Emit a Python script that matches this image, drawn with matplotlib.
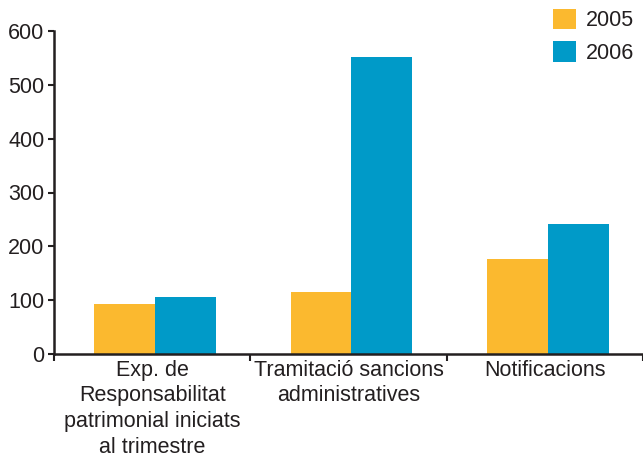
import matplotlib
matplotlib.use("Agg")
import matplotlib.pyplot as plt
import numpy as np

categories = ["Exp. de\nResponsabilitat\npatrimonial iniciats\nal trimestre",
              "Tramitació sancions\nadministratives",
              "Notificacions"]
years = ["2005", "2006"]
values_2005 = [93, 115, 176]
values_2006 = [106, 551, 241]
yticks = [0, 100, 200, 300, 400, 500, 600]

C05 = "#FBB92F"
C06 = "#009AC8"
TXT = "#231F20"
FS = 15.5

plt.rcParams['font.family'] = ['Liberation Sans', 'DejaVu Sans']

fig = plt.figure(figsize=(6.43, 4.57), dpi=100)
ax = fig.add_axes([54/643, 1-354/457, 1-54/643, (354-31)/457])

x = np.arange(len(categories)) + 0.515
w = 0.31
b1 = ax.bar(x - w/2, values_2005, w, color=C05, label=years[0], zorder=2)
b2 = ax.bar(x + w/2, values_2006, w, color=C06, label=years[1], zorder=2)

ax.set_xlim(0, 3)
ax.set_ylim(0, 600)
ax.set_yticks(yticks)
ax.set_yticklabels([str(v) for v in yticks])
ax.set_xticks(np.arange(len(categories)) + 0.5)
ax.set_xticklabels(categories, fontsize=FS, color=TXT, linespacing=1.3)
ax.set_xticks([0, 1, 2, 3], minor=True)
ax.tick_params(axis='x', which='major', length=0, pad=4)
ax.tick_params(axis='x', which='minor', length=5, width=1.5, color=TXT, direction='out')
ax.tick_params(axis='y', length=4, width=1.5, color=TXT, labelsize=FS, labelcolor=TXT, pad=3)

for s in ['top', 'right']:
    ax.spines[s].set_visible(False)
for s in ['left', 'bottom']:
    ax.spines[s].set_linewidth(1.8)
    ax.spines[s].set_color(TXT)

leg = fig.legend(handles=[b1, b2], labels=years, loc='upper right',
                 bbox_to_anchor=(1.0, 1.0), frameon=False, fontsize=FS,
                 handlelength=1.11, handleheight=1.11, labelspacing=0.45,
                 handletextpad=0.45, borderaxespad=0.1, borderpad=0.3)
for t in leg.get_texts():
    t.set_color(TXT)

fig.savefig("out.png", dpi=100)
